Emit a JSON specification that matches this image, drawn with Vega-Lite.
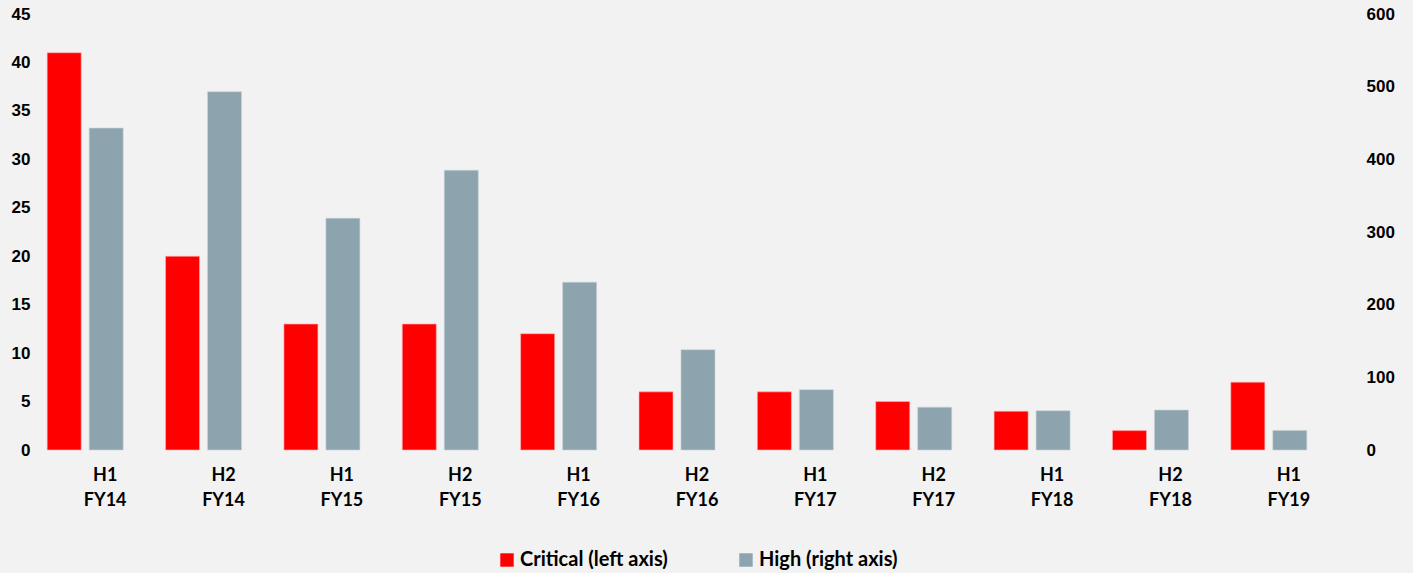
{
  "$schema": "https://vega.github.io/schema/vega-lite/v6.json",
  "width": 1302,
  "height": 436,
  "autosize": {"type": "none"},
  "padding": {"left": 26, "top": 14, "right": 85, "bottom": 123},
  "background": "#f2f2f2",
  "config": {
    "view": {"stroke": null},
    "axis": {"grid": false, "domain": false, "ticks": false, "labelFontWeight": "bold", "labelColor": "#000000", "title": null}
  },
  "data": {
    "values": [
      {"period": "H1 FY14", "series": "Critical (left axis)", "value": 41},
      {"period": "H2 FY14", "series": "Critical (left axis)", "value": 20},
      {"period": "H1 FY15", "series": "Critical (left axis)", "value": 13},
      {"period": "H2 FY15", "series": "Critical (left axis)", "value": 13},
      {"period": "H1 FY16", "series": "Critical (left axis)", "value": 12},
      {"period": "H2 FY16", "series": "Critical (left axis)", "value": 6},
      {"period": "H1 FY17", "series": "Critical (left axis)", "value": 6},
      {"period": "H2 FY17", "series": "Critical (left axis)", "value": 5},
      {"period": "H1 FY18", "series": "Critical (left axis)", "value": 4},
      {"period": "H2 FY18", "series": "Critical (left axis)", "value": 2},
      {"period": "H1 FY19", "series": "Critical (left axis)", "value": 7},
      {"period": "H1 FY14", "series": "High (right axis)", "value": 443},
      {"period": "H2 FY14", "series": "High (right axis)", "value": 493},
      {"period": "H1 FY15", "series": "High (right axis)", "value": 319},
      {"period": "H2 FY15", "series": "High (right axis)", "value": 385},
      {"period": "H1 FY16", "series": "High (right axis)", "value": 231},
      {"period": "H2 FY16", "series": "High (right axis)", "value": 138},
      {"period": "H1 FY17", "series": "High (right axis)", "value": 83},
      {"period": "H2 FY17", "series": "High (right axis)", "value": 59},
      {"period": "H1 FY18", "series": "High (right axis)", "value": 54},
      {"period": "H2 FY18", "series": "High (right axis)", "value": 55},
      {"period": "H1 FY19", "series": "High (right axis)", "value": 27}
    ]
  },
  "encoding": {
    "x": {
      "field": "period", "type": "nominal", "sort": null,
      "scale": {"paddingInner": 0.358, "paddingOuter": 0.179},
      "axis": {"labelAngle": 0, "labelExpr": "split(datum.label, ' ')", "labelFont": "Lato", "labelFontSize": 18, "labelLineHeight": 25, "labelPadding": 16, "labelOffset": 20}
    },
    "xOffset": {
      "field": "series", "type": "nominal",
      "scale": {"domain": ["Critical (left axis)", "High (right axis)"], "paddingInner": 0.19, "paddingOuter": 0}
    },
    "color": {
      "field": "series", "type": "nominal",
      "scale": {"domain": ["Critical (left axis)", "High (right axis)"], "range": ["#ff0000", "#8da3ad"]},
      "legend": {"title": null, "orient": "none", "legendX": 471, "legendY": 536, "direction": "horizontal", "symbolType": "square", "symbolSize": 180, "symbolStrokeWidth": 0, "labelFont": "Lato", "labelFontSize": 20, "labelFontWeight": "bold", "labelColor": "#000000", "columnPadding": 68, "labelOffset": 3}
    }
  },
  "layer": [
    {
      "transform": [{"filter": "datum.series === 'Critical (left axis)'"}],
      "mark": {"type": "bar", "stroke": "#ffb0b0", "strokeWidth": 0.6},
      "encoding": {
        "y": {"field": "value", "type": "quantitative", "scale": {"domain": [0, 45]},
          "axis": {"orient": "left", "values": [0,5,10,15,20,25,30,35,40,45], "labelFont": "Liberation Sans", "labelFontSize": 17, "labelPadding": -4}}
      }
    },
    {
      "transform": [{"filter": "datum.series === 'High (right axis)'"}],
      "mark": {"type": "bar", "stroke": "#c8d3d8", "strokeWidth": 0.6},
      "encoding": {
        "y": {"field": "value", "type": "quantitative", "scale": {"domain": [0, 600]},
          "axis": {"orient": "right", "values": [0,100,200,300,400,500,600], "labelFont": "Liberation Sans", "labelFontSize": 17, "labelPadding": 38}}
      }
    }
  ],
  "resolve": {"scale": {"y": "independent"}}
}
